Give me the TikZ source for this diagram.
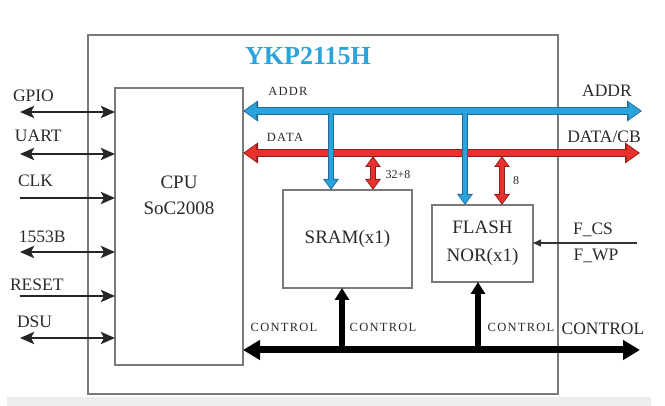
\documentclass[tikz,border=0pt]{standalone}
\usepackage{fontspec}
\setmainfont{Liberation Serif}
\usetikzlibrary{arrows.meta}
\definecolor{addrblue}{HTML}{2AA3DC}
\definecolor{addrdark}{HTML}{206C96}
\definecolor{datared}{HTML}{E8302C}
\definecolor{datadark}{HTML}{8E1E1A}
\definecolor{titleblue}{HTML}{2AA5DC}
\definecolor{boxgray}{HTML}{7A7A7A}
\definecolor{txt}{HTML}{2A2A2A}
\definecolor{band}{HTML}{EDEDED}
\tikzset{
  every node/.style={text=txt, inner sep=0pt, outer sep=0pt},
  box/.style={draw=boxgray, line width=1.5pt, fill=white},
  outerbox/.style={draw=boxgray, line width=2pt},
  lab/.style={font=\fontsize{17.5}{17.5}\selectfont},
  boxtxt/.style={font=\fontsize{19}{26}\selectfont, align=center},
  smalllab/.style={font=\fontsize{12.5}{13}\selectfont\addfontfeature{LetterSpace=10}},
  numlab/.style={font=\fontsize{12}{12}\selectfont},
  sig/.style={draw=black!85, line width=2.8pt, >={Stealth[length=14pt,width=12pt,inset=3pt]}},
  ctrl/.style={draw=black, line width=7pt, >={Triangle[length=17pt,width=19pt]}},
  ctrlv/.style={draw=black, line width=6pt, >={Triangle[length=12pt,width=14pt]}},
  busO/.style={line width=8.4pt, >={Triangle[length=15pt,width=20pt]}},
  busI/.style={line width=5.8pt, >={Triangle[length=11.8pt,width=16pt]}},
  tapO/.style={line width=6.6pt, >={Triangle[length=11pt,width=15pt]}},
  tapI/.style={line width=4.2pt, >={Triangle[length=8.5pt,width=11.5pt]}},
  fsig/.style={draw=black!80, line width=1.2pt, >={Triangle[length=8pt,width=7pt]}}
}
\begin{document}
\begin{tikzpicture}[x=1pt,y=-1pt]
\fill[white] (0,0) rectangle (665,406);
\useasboundingbox (0,0) rectangle (665,406);
\fill[band] (7,397) rectangle (651,406);

% boxes
\node[outerbox, anchor=north west, minimum width=470pt, minimum height=359pt] (chip) at (88,35) {};
\node[box, anchor=north west, minimum width=128pt, minimum height=277pt] (cpu) at (115,88) {};
\node[box, boxtxt, anchor=north west, minimum width=129pt, minimum height=98pt] (sram) at (283,190) {SRAM(x1)};
\node[box, boxtxt, anchor=north west, minimum width=101pt, minimum height=77pt, font=\fontsize{19}{28}\selectfont] (flash) at (432,205) {FLASH\\NOR(x1)};
\node[boxtxt] (cputxt) at (179,195) {CPU\\SoC2008};

% title
\node[font=\bfseries\fontsize{26}{26}\selectfont, text=titleblue] (title) at (308,56) {YKP2115H};

% coordinates
\coordinate (gpioL) at (20,112);
\coordinate (uartL) at (20,154);
\coordinate (clkL) at (20,198);
\coordinate (bL) at (20,252);
\coordinate (resetL) at (20,296);
\coordinate (dsuL) at (20,338);
\coordinate (addrR) at (642,111);
\coordinate (dataR) at (640,153);
\coordinate (ctrlR) at (640,350);
\coordinate (fR) at (637,243);
\coordinate (aS) at (331,113);
\coordinate (aF) at (465,113);
\coordinate (dS) at (373,156);
\coordinate (dF) at (502,156);
\coordinate (cS) at (342,350);
\coordinate (cF) at (478,350);

% left signals
\draw[sig,<->] (gpioL) -- (gpioL -| cpu.west);
\draw[sig,<->] (uartL) -- (uartL -| cpu.west);
\draw[sig,->] (clkL) -- (clkL -| cpu.west);
\draw[sig,<->] (bL) -- (bL -| cpu.west);
\draw[sig,->] (resetL) -- (resetL -| cpu.west);
\draw[sig,<->] (dsuL) -- (dsuL -| cpu.west);

\node[lab, anchor=west] (lgpio) at (13,96) {GPIO};
\node[lab, anchor=west] (luart) at (15,136) {UART};
\node[lab, anchor=west] (lclk) at (18,181) {CLK};
\node[lab, anchor=west] (l1553) at (19,237) {1553B};
\node[lab, anchor=west] (lreset) at (10,285) {RESET};
\node[lab, anchor=west] (ldsu) at (17,322) {DSU};

% DATA bus
\draw[busO, draw=datadark, <->] (cpu.east |- dataR) -- (dataR);
\draw[busI, draw=datared, <->, shorten <=1.6pt, shorten >=1.6pt] (cpu.east |- dataR) -- (dataR);
% ADDR bus
\draw[busO, draw=addrdark, <->] (cpu.east |- addrR) -- (addrR);
\draw[busI, draw=addrblue, <->, shorten <=1.6pt, shorten >=1.6pt] (cpu.east |- addrR) -- (addrR);

% taps
\draw[tapO, draw=addrdark, ->] (aS) -- (aS |- sram.north);
\draw[tapI, draw=addrblue, ->, shorten >=1.5pt] (aS) -- (aS |- sram.north);
\draw[tapO, draw=addrdark, ->] (aF) -- (aF |- flash.north);
\draw[tapI, draw=addrblue, ->, shorten >=1.5pt] (aF) -- (aF |- flash.north);
\draw[tapO, draw=datadark, <->] (dS) -- (dS |- sram.north);
\draw[tapI, draw=datared, <->, shorten <=1.5pt, shorten >=1.5pt] (dS) -- (dS |- sram.north);
\draw[tapO, draw=datadark, <->] (dF) -- (dF |- flash.north);
\draw[tapI, draw=datared, <->, shorten <=1.5pt, shorten >=1.5pt] (dF) -- (dF |- flash.north);

% CONTROL bus
\draw[ctrl, <->] (cpu.east |- ctrlR) -- (ctrlR);
\draw[ctrlv, ->] (cS) -- (cS |- sram.south);
\draw[ctrlv, ->] (cF) -- (cF |- flash.south);

% F_CS / F_WP
\draw[fsig, ->] (fR) -- (fR -| flash.east);
\node[lab] (fcs) at (593,230) {F\_CS};
\node[lab] (fwp) at (596,256) {F\_WP};

% bus labels
\node[smalllab] (saddr) at (288,91) {ADDR};
\node[smalllab] (sdata) at (285,137) {DATA};
\node[lab] (baddr) at (607,91) {ADDR};
\node[lab] (bdata) at (604,137) {DATA/CB};
\node[numlab] (s328) at (398,175) {32+8};
\node[numlab] (s8) at (516,181) {8};
\node[smalllab] (sc1) at (284,327) {CONTROL};
\node[smalllab] (sc2) at (383,327) {CONTROL};
\node[smalllab] (sc3) at (521,327) {CONTROL};
\node[lab] (bctrl) at (603,329) {CONTROL};
\end{tikzpicture}
\end{document}
